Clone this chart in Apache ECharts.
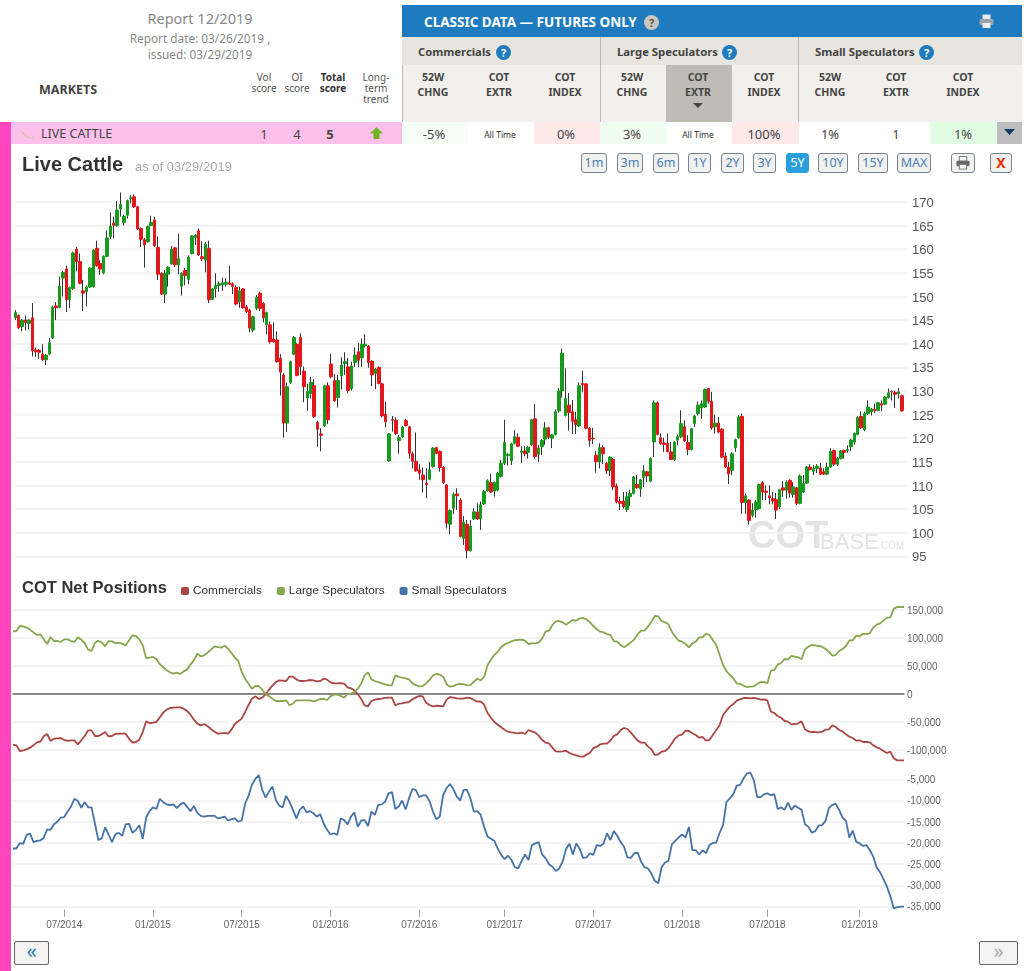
<!DOCTYPE html>
<html>
<head>
<meta charset="utf-8">
<title>Live Cattle COT</title>
<script src="https://cdn.jsdelivr.net/npm/echarts@6/dist/echarts.min.js"></script>
<style>
html,body{margin:0;padding:0;background:#fff;}
body{position:relative;width:1027px;height:971px;overflow:hidden;font-family:"Noto Sans",sans-serif;color:#444;}
.a{position:absolute;white-space:nowrap;}
.c{position:absolute;text-align:center;transform:translateX(-50%);white-space:nowrap;}
.hd{font-size:10.5px;font-weight:700;line-height:15px;color:#444;top:70px;}
.sc{font-size:10px;line-height:11px;color:#555;top:72px;}
.val{font-size:13px;color:#444;top:125px;}
.at{font-size:8.5px;color:#333;top:129px;}
.q{position:absolute;width:15px;height:15px;border-radius:50%;background:#1f7bc0;color:#fff;font:bold 11px/15px "Noto Sans";text-align:center;}
.b{position:absolute;top:153px;height:18px;box-sizing:content-box;border:1px solid #7a8290;border-radius:3px;background:#f1f1ef;color:#4b7fb5;font-size:12.5px;line-height:18px;text-align:center;}
.nav{position:absolute;top:941px;height:22px;border:1px solid #666;border-radius:2px;background:#f3f3f1;font-size:20px;line-height:18px;text-align:center;}
.grp{font-size:11.3px;font-weight:700;color:#444;top:44px;}
#chart{position:absolute;left:0;top:0;width:1027px;height:971px;}
</style>
</head>
<body>
<div class="a" style="left:0;top:122px;width:11px;height:849px;background:#ff46bf"></div>
<div class="a" style="left:11px;top:122px;width:391px;height:22px;background:#fdc0ea"></div>

<div class="c" style="left:200px;top:8px;font-size:14.5px;color:#888">Report 12/2019</div>
<div class="c" style="left:200px;top:30px;font-size:11.8px;color:#888">Report date: 03/26/2019 ,</div>
<div class="c" style="left:200px;top:46px;font-size:11.8px;color:#888">issued: 03/29/2019</div>
<div class="a" style="left:39px;top:81px;font-size:12.5px;font-weight:700;color:#444">MARKETS</div>
<div class="c sc" style="left:264px">Vol<br>score</div>
<div class="c sc" style="left:297px">OI<br>score</div>
<div class="c sc" style="left:333px;font-weight:700;color:#333">Total<br>score</div>
<div class="c sc" style="left:376px">Long-<br>term<br>trend</div>

<div class="a" style="left:402px;top:5px;width:620px;height:32px;background:#1f7bc0"></div>
<div class="a" style="left:424px;top:13px;font-size:13.5px;font-weight:700;color:#fff">CLASSIC DATA — FUTURES ONLY</div>
<div class="q" style="left:644px;top:15px;background:#c9c6bf;color:#555">?</div>
<svg class="a" style="left:979px;top:14px" width="15" height="15" viewBox="0 0 15 15"><rect x="3.5" y="0.5" width="8" height="5" fill="#e8e8e8"/><rect x="0.5" y="5" width="14" height="6" rx="1.5" fill="#9aa3ad"/><rect x="3.5" y="9" width="8" height="5" fill="#eee"/></svg>

<div class="a" style="left:402px;top:37px;width:620px;height:28px;background:#e8e4de"></div>
<div class="a" style="left:402px;top:65px;width:620px;height:57px;background:#f2f0ec"></div>
<div class="a" style="left:666px;top:65px;width:66px;height:57px;background:#bfbcb5"></div>
<div class="a" style="left:402px;top:65px;width:1px;height:57px;background:#bbb"></div>
<div class="a" style="left:600px;top:37px;width:1px;height:85px;background:#bbb"></div>
<div class="a" style="left:798px;top:37px;width:1px;height:85px;background:#bbb"></div>

<div class="a grp" style="left:418px">Commercials</div><div class="q" style="left:496px;top:45px">?</div>
<div class="a grp" style="left:617px">Large Speculators</div><div class="q" style="left:722px;top:45px">?</div>
<div class="a grp" style="left:815px">Small Speculators</div><div class="q" style="left:919px;top:45px">?</div>

<div class="c hd" style="left:433px">52W<br>CHNG</div><div class="c hd" style="left:499px">COT<br>EXTR</div><div class="c hd" style="left:565px">COT<br>INDEX</div>
<div class="c hd" style="left:632px">52W<br>CHNG</div><div class="c hd" style="left:698px">COT<br>EXTR</div><div class="c hd" style="left:764px">COT<br>INDEX</div>
<div class="c hd" style="left:830px">52W<br>CHNG</div><div class="c hd" style="left:896px">COT<br>EXTR</div><div class="c hd" style="left:963px">COT<br>INDEX</div>
<svg class="a" style="left:693px;top:103px" width="10" height="6"><path d="M0 0H10L5 5Z" fill="#444"/></svg>

<div class="a" style="left:402px;top:122px;width:66px;height:22px;background:#f7fdf7"></div>
<div class="a" style="left:534px;top:122px;width:66px;height:22px;background:#fee8e8"></div>
<div class="a" style="left:600px;top:122px;width:66px;height:22px;background:#f0fdf1"></div>
<div class="a" style="left:732px;top:122px;width:67px;height:22px;background:#fee8e8"></div>
<div class="a" style="left:930px;top:122px;width:67px;height:22px;background:#e0fce3"></div>
<div class="a" style="left:997px;top:122px;width:25px;height:22px;background:#bdbdbd"></div>
<svg class="a" style="left:1004px;top:129px" width="11" height="7"><path d="M0 0H11L5.5 6Z" fill="#123a6b"/></svg>

<svg class="a" style="left:20px;top:126px" width="15" height="15"><path d="M1 5L7 11L14 12" stroke="#eba9b4" fill="none"/><path d="M1 13L7 9L14 13" stroke="#d8dcbc" fill="none"/></svg>
<div class="a" style="left:41px;top:125px;font-size:12.5px;color:#444">LIVE CATTLE</div>
<div class="c val" style="left:264px">1</div><div class="c val" style="left:297px">4</div><div class="c val" style="left:330px;font-weight:700">5</div>
<svg class="a" style="left:370px;top:127px" width="13" height="12"><path d="M6.5 0L13 6.5H9.5V12H3.5V6.5H0Z" fill="#6fb51f"/></svg>
<div class="c val" style="left:434px">-5%</div><div class="c at" style="left:500px">All Time</div><div class="c val" style="left:566px">0%</div>
<div class="c val" style="left:632px">3%</div><div class="c at" style="left:698px">All Time</div><div class="c val" style="left:764px">100%</div>
<div class="c val" style="left:830px">1%</div><div class="c val" style="left:896px">1</div><div class="c val" style="left:963px">1%</div>

<div class="b" style="left:581px;width:24px">1m</div>
<div class="b" style="left:617px;width:24px">3m</div>
<div class="b" style="left:653px;width:24px">6m</div>
<div class="b" style="left:688px;width:21px">1Y</div>
<div class="b" style="left:721px;width:21px">2Y</div>
<div class="b" style="left:753px;width:21px">3Y</div>
<div class="b" style="left:786px;width:21px;background:#2a9fdc;color:#fff;border-color:#2a9fdc">5Y</div>
<div class="b" style="left:818px;width:28px">10Y</div>
<div class="b" style="left:858px;width:28px">15Y</div>
<div class="b" style="left:897px;width:32px">MAX</div>
<div class="b" style="left:951px;width:22px"><svg width="14" height="14" viewBox="0 0 15 15" style="margin-top:2px"><rect x="3.5" y="0.5" width="8" height="5" fill="#fff" stroke="#777"/><rect x="0.5" y="5" width="14" height="6" rx="1.5" fill="#666"/><rect x="3.5" y="9" width="8" height="5" fill="#fff" stroke="#777"/></svg></div>
<div class="b" style="left:990px;width:20px;color:#f03000;font-weight:700;font-size:14px">X</div>

<div class="nav" style="left:14px;width:33px;color:#2a7fc0">«</div>
<div class="nav" style="left:979px;width:37px;color:#aaa">»</div>

<div id="chart"></div>
<script>
// weekly candles: open, close, low, high
const priceWeeks = [
[145.5,146.6,145,147.1],[146,143.4,143.1,146.2],[143.6,145,142.6,145.2],[145,144.5,142.8,146],[144.3,145,143,145.2],
[145.5,138.5,137.3,148.6],[138.7,138.3,137.2,139.2],[138.6,138.2,136.8,138.9],[137.8,136.6,136.4,139.9],[136.6,137.6,135.5,137.8],
[137.8,140.2,137.6,141.2],[141.2,147.7,141,148.1],[148,147.6,145,148.8],[147.7,152.2,147.5,154.2],[153.9,155.1,150,155.4],
[155.8,149.3,146.7,156.5],[149.3,151.9,147.5,152.1],[151.7,159.2,151.4,159.5],[160,157.4,155.3,160.5],[157.4,152.8,152.6,159.1],
[151.2,150.7,146.9,153.5],[151,152,147.9,152.3],[152,156,151.8,156.2],[152.1,159.8,151.9,160],[160.2,156.5,156.3,161.8],
[157,155.8,154.6,157.7],[155,158.5,154.7,158.7],[158.5,162.4,158.3,164],[162.7,164.9,162.1,167.8],[165.5,165.1,162.3,166.9],
[165,168.3,164.8,170.2],[168.5,169.5,166.9,172],[165.7,167,165,167.3],[167.2,170.3,166.5,170.5],[170.7,170.9,169.7,171.5],
[171.1,169,168.7,171.6],[169,164.3,164.1,169.2],[164.4,162.1,160.5,164.6],[162,160.9,156.1,162.4],[161.6,164.8,161.4,165],
[165,165.7,164.9,167.1],[166.2,160.7,160.5,166.9],[160.4,154.7,153.5,162.7],[154.9,150.5,150.3,155.1],[150.5,154.9,148.6,155.6],
[154.7,156.2,152.1,156.4],[156.9,160,156.7,160.7],[160.3,156.7,156.2,160.5],[156.7,158,154.7,163.2],[152.2,154.9,150.2,155.1],
[155.5,154.4,152.4,156],[153.6,158.3,152.6,158.7],[159.1,162.8,158.9,163],[162.5,163,160.9,163.2],[163.9,158.8,158.6,164.4],
[158.4,158,157.5,161.7],[157.7,161.1,155.1,161.5],[160.2,149.3,148.6,161.8],[149.4,151.6,149.2,151.8],[151.6,152.4,149.8,154.9],
[152.3,152.7,151,153.2],[152.5,152.9,151.2,154],[152.6,153,152.1,153.9],[152.9,152.6,152.4,156.5],[152.7,152.1,150.5,153],
[151.9,148.4,148.1,152.4],[148.9,151.2,147.6,152.1],[151.6,147.6,147.4,151.8],[147.8,146.8,146.5,148.2],[147.1,143.3,142.4,147.4],
[142.9,145.7,142.4,145.9],[147.5,149.8,147.1,150.3],[150.7,147.5,146.9,151],[148.5,145.5,144.5,148.8],[144,146.6,142,146.8],
[144,140.4,140,144.7],[141,140.4,140.2,144.5],[140.8,136.2,136,142.6],[136.9,134,129,137.8],[133.4,123.2,120.1,133.8],
[123.2,130.9,121.3,131.8],[131.8,136.2,131.5,136.4],[137.8,141.3,137.6,141.6],[139.9,133.3,133.1,140.1],[141.3,135.2,133.4,142.2],
[134.2,130.9,127.6,135.2],[128.5,129.9,125.8,131.5],[129.5,131.8,128.4,133],[131.1,124.6,124.3,132.5],[123.3,121.9,118.2,123.7],
[120.9,120.6,117.2,122.1],[122.6,131.1,122.4,131.3],[131.1,123.9,123,131.8],[135.7,133,132.7,137.8],[132.2,127.9,127.7,133.6],
[128.6,132.2,126.5,133.4],[133.2,135.5,130.3,137.1],[135.8,136.2,133.4,138.2],[135.1,130.1,129.5,137],[130.5,135.3,130.1,136.2],
[136,137.6,135.1,139.2],[138.3,136.5,135,140.1],[137,139.9,135.1,141.1],[139.6,139.9,139.2,142],[139.5,136,134.9,139.7],
[136.3,133.4,131,136.5],[133.7,134.6,130.4,134.9],[135,131.6,131.4,135.2],[131.5,124.7,124.4,131.7],[125.1,123.5,122.3,127.7],
[115.2,120.9,115,121.1],[124,123.8,121.4,124.7],[123.8,121,120.7,124.4],[119.5,120.1,116.7,120.7],[120.3,122.3,120.1,122.6],
[123.7,122.7,122.5,124.1],[122.4,116.8,115.7,122.6],[116.7,115.1,113.6,117.2],[115.1,113.1,112.9,121.2],[113.3,112.6,111.2,114.5],
[112.2,111.2,108.5,113.8],[110.5,110.2,107.3,113.6],[111.3,113.3,111.1,115],[114,117.9,113.8,118.1],[118,116.8,116.6,118.2],
[117.2,113.8,112.9,117.4],[113.8,110.6,110.3,114.1],[110.1,102,100.9,110.3],[101.8,104.7,99.7,104.9],[105.2,108.1,103.9,108.5],
[108.2,107.8,104.8,109.4],[106.9,99.2,99,107.3],[98.8,102.2,97.4,103.5],[101.8,96.2,94.6,102.7],[96.2,101.4,96,102.7],
[102.9,104.4,102.7,105.2],[104.4,102.9,102.7,106.2],[102.9,105.9,100.6,106.6],[106.1,108.7,105.9,109],[108.9,111,108.7,111.3],
[110.6,108.6,108.4,112.4],[108.8,110.6,107.6,110.8],[109,112.6,108.8,112.9],[111.9,114.7,111.7,115.4],[114.7,119.1,114.3,123.9],
[116.3,116.6,114.2,116.8],[115.2,118.8,114.3,119],[118.9,120.3,118.7,121.7],[120.2,118.3,118.1,121],[117,117.3,114.7,118.3],
[117.3,116.7,116.2,118.3],[117,118.1,115.7,118.4],[118.6,123.9,118.4,124.1],[124.1,116.1,115.7,127.2],[116.6,117.9,115,118.6],
[118.2,119.5,116.4,119.8],[119.8,122.2,118.6,123.4],[122.2,120.2,119.8,122.4],[120,120.7,117.9,120.9],[120.8,125.6,120.6,126.1],
[125.8,130,125.4,130.6],[130,138,128.6,139],[124.8,128.4,124.6,134.8],[127,125.4,121.6,129.6],[125.6,123.6,120.9,128.1],
[123.9,122.9,120.9,125.6],[122.6,131.1,122.4,131.8],[131.6,131.3,129.7,134.3],[131.5,122.1,121.9,131.7],[122.1,119.5,118.2,122.4],
[120,119.9,118.8,122.2],[116.4,115,112.7,117.3],[115,118,113.6,118.9],[118,116.7,114.5,118.5],[114.7,113.1,112.4,115],
[113.1,116,112,116.2],[115.5,109.7,109,115.8],[109.9,106.5,106.2,110.4],[106.6,106.2,104.8,107.6],[106.7,105.5,105.1,108.6],
[104.9,107.6,104.4,108.6],[107.6,108.3,105.7,109.1],[108.3,111.8,108.1,112],[110.2,109.5,109.3,112.2],[109.3,111.2,107.6,111.4],
[111.7,113.1,109.7,114.3],[112.9,112,110.7,113.1],[110.9,115.7,110.7,115.9],[119.2,127.5,116,128],[127.5,120.8,120.6,127.8],
[120.1,118.9,118.6,121],[119,118.7,117.1,120.1],[118.9,117.2,117,121],[117.1,115.5,115.4,119.2],[115.5,119.2,115.2,119.4],
[119.6,120.3,118.5,120.8],[120.3,123.1,120,125.9],[122.4,119.4,119.2,123.8],[119.1,117.6,116.4,120.6],[117.6,122,117.4,122.2],
[123.1,124.7,122.4,124.9],[125.2,127,124.8,127.8],[126.4,127.3,124.1,128],[126.6,130.3,126.4,130.5],[130.5,127.8,127.3,130.6],
[127.8,122.2,121.8,129.8],[122.4,123.2,121,125],[123.2,121.3,121,124.5],[121.9,116,115.8,122.1],[116.2,113.9,113.7,117],
[113.9,112.4,110.3,115],[113.2,116.7,112.2,117],[118,119.7,117.1,119.9],[120.1,124.5,119.9,124.9],[124.6,106.4,104,125.2],
[106.4,107.8,104,108.3],[106.9,102.6,101.7,107.1],[103.7,104.8,103.3,106.2],[104.9,106.5,103.2,106.9],[105.1,110.2,104.9,110.4],
[110.6,108.6,106.9,110.9],[108.8,108.5,106.9,110],[107.8,107.4,106,110],[107.2,106.7,106,108.6],[107,104.8,102.9,108.4],
[105.5,109.1,105,109.3],[109.5,109,107.6,110.9],[109,110.7,107.2,111.1],[111.1,108.4,107.4,111.3],[108.1,109.7,107.4,110.7],
[109.5,106.2,105.8,109.7],[106.2,112,106,112.3],[108.6,110.4,108.4,112.2],[110.5,113.9,110.3,114.1],[113.9,113.4,113.2,114.5],
[113,113.6,112.2,114.3],[113.6,114.1,112.6,114.5],[113.7,112.4,112.2,114.8],[112.9,112.4,112.2,113.6],[112.4,113.9,112.2,114.8],
[113.9,117.2,113.7,117.9],[117.4,114.5,114.1,117.6],[114.5,115.7,114.1,116],[115.7,117.3,115.5,117.5],[117.4,117,115.7,117.6],
[117.4,117.6,116.9,118.5],[118.2,119.6,117.3,119.9],[119.2,121,118.7,121.2],[120.8,124.4,120.6,124.6],[124.6,122.2,122,125.7],
[121.8,125.2,121.5,125.6],[125.2,126.6,124.9,128],[125.6,126.2,124.8,126.4],[126.1,125.8,125.3,127.3],[125.9,127.5,125.7,127.7],
[127.3,127,125.7,128],[127.2,128.7,127,128.9],[128.6,129.6,128.4,130.5],[129.9,129.8,128,130.1],[129.7,129.3,126.4,130.1],
[129.4,129.8,128.4,130.6],[129,125.8,125.6,129.2]
]

// net positions, thousands of contracts
const commercials = [
-90.5,-91.7,-101.8,-100.6,-98.8,-95.8,-91.7,-86.3,-85.1,-75.6,
-71.4,-83.9,-79.8,-79.2,-78.6,-82.1,-83.9,-82.7,-82.7,-89.9,
-82.7,-75,-64.9,-64.9,-75,-75,-72,-67.9,-75.6,-75,
-71.4,-70.8,-70.8,-70.8,-79.8,-86.9,-85.7,-81.5,-67.9,-48.8,
-52.4,-51.2,-50,-41.7,-33.3,-28,-25,-24.4,-23.8,-23.8,
-26.2,-30.4,-36.9,-45.8,-53,-56,-53.6,-57.7,-62.5,-67.3,
-70.8,-70.2,-69.6,-70.8,-63.7,-53,-48.8,-44,-32.1,-19.6,
-8.3,-4.2,-8.9,-6.5,-0.6,7.7,14.9,21.4,24.4,23.8,
23.2,31,31,26.2,23.2,23.2,23.8,25,24.4,22.6,
23.2,27.4,25.6,20.8,19,19,19.6,18.5,11.9,10.1,
6.5,-0.6,-8.9,-20.2,-22,-12.5,-10.1,-8.9,-8.3,-7.1,
-6.5,-6.5,-20.2,-17.3,-16.7,-15.5,-14.3,-9.5,-6,-3.6,
-4.2,-15.5,-19.6,-22,-20.8,-21.4,-22,-10.1,-5.4,-6.5,
-7.7,-8.3,-8.3,-6.5,-7.1,-10.7,-13.7,-13.1,-19,-33.9,
-42.3,-50,-54.8,-59.5,-63.7,-67.3,-68.5,-69.6,-70.2,-69,
-71.4,-64.3,-66.7,-69,-74.4,-82.1,-86.9,-88.1,-95.8,-102.4,
-103,-102.4,-101.2,-105.4,-107.7,-109.5,-111.3,-111.9,-108.3,-104.8,
-97,-94,-89.9,-88.7,-88.7,-83.3,-75,-72,-64.3,-60.7,
-62.5,-69,-76.2,-83.3,-86.9,-86.9,-94,-98.8,-108.9,-107.7,
-103,-101.8,-97,-88.1,-79.2,-73.8,-72.6,-65.5,-66.1,-70.2,
-73.2,-78,-76.8,-83.3,-82.1,-73.2,-64.3,-55.4,-37.5,-29.8,
-22.6,-17.9,-11.9,-9.5,-7.1,-7.1,-7.7,-7.1,-8.3,-10.1,
-9.5,-11.9,-31.5,-33.9,-39.3,-42.3,-48.2,-49.4,-54.2,-53.6,
-52.4,-48.8,-63.1,-66.7,-67.9,-67.9,-68.5,-67.3,-63.7,-63.1,
-56,-59,-64.3,-66.7,-72,-76.2,-78.6,-83.3,-82.7,-85.7,
-85.7,-86.3,-91.7,-95.2,-97.6,-101.8,-105.4,-103,-114.9,-118.5,
-118.5,-118.5
]
const largeSpecs = [
112,112.5,121.4,120.8,118.5,114.9,110.1,105.4,106.5,97.6,
89.3,101.8,94.6,94.6,92.9,97.6,97.6,94.6,92.9,101.2,
97,91.1,79.2,76.8,91.1,95.2,91.7,85.1,94.6,94,
90.5,91.7,89.9,86.9,95.8,104.8,103.6,97.6,86.9,64.3,
64.9,66.1,62.5,53,48.2,42.3,38.7,36.3,38.1,35.7,
40.5,43.5,53,60.1,72,67.3,69,73.8,79.2,85.1,
83.9,82.7,86.3,81,73.2,64.9,58.9,39.3,27.4,18.5,
9.5,14.3,14.3,7.7,0,-4.2,-8.3,-12.5,-12.5,-12.5,
-11.3,-20.2,-17.3,-11.3,-11.3,-11.3,-11.3,-11.3,-13.1,-11.3,
-8.9,-8.9,-10.7,-4.2,-1.2,-1.2,-3.6,-6.5,0,0.6,
3.6,9.5,18.5,33.3,38.7,26.2,23.2,21.4,19,17.3,
16,15.5,33.5,30.5,29.3,28,26.2,18.9,15.8,13.6,
14,19,25,33,35.8,34.8,31,17.5,13,14,
17,18.2,17.5,15.5,16,22,27.2,24.4,30.4,51.2,
61,70,75.5,84,88.5,91,94,96,96.5,97,
95.2,89.3,90.5,90.5,91.7,99.4,111.3,113,123.2,129.8,
130.4,128,123.8,128,132.1,131,135.1,135.7,133.3,128,
121.4,115.5,111.3,110.1,107,105.4,94.6,93.5,87.5,83.3,
87.5,92.3,97.6,107,113,113,120.2,129.2,139.3,138.7,
130.4,128,124.4,111.3,102.4,95.2,93.5,89.3,83.3,90.5,
93.5,101.2,101.2,107.7,105.4,96.4,87.5,69.6,51.8,40.9,
33.9,28,19,17.9,14.9,12.5,13.1,13.7,17.9,21.4,
21.4,19.6,41.7,42.9,52.4,55.4,62.5,61.3,67.9,66.7,
65.5,61.9,79.8,84.5,87.5,86.9,85.7,84.5,80.4,75.6,
68.5,69.6,76.8,80.4,85.7,95.8,95.8,104.2,103,107.7,
107,108.9,118.5,123.8,126.2,131.5,136.3,136.9,152.4,155.4,
155.4,155.4
]
const smallSpecs = [
-21.3,-21.3,-20,-20.2,-18.1,-17.8,-19.8,-19.5,-19.4,-18.8,
-16.8,-16.9,-15.6,-15,-14,-13.9,-12.6,-11.4,-9.6,-10.1,
-11.7,-10.4,-11.6,-11.6,-15.4,-19.3,-18.9,-16.3,-18,-19.8,
-17.9,-17.6,-18.3,-15.6,-15.5,-17.6,-16.9,-15.8,-19,-14,
-12.5,-11.6,-12,-9.6,-10.4,-10.9,-11.1,-10.9,-11.8,-10.9,
-10.5,-11.5,-12.5,-11.3,-12.9,-13.6,-13.8,-13.6,-13.6,-13.6,
-14.2,-14,-13.8,-14.7,-14.4,-14.2,-15,-14.7,-10.7,-8.9,
-6.3,-4.9,-4,-7.5,-9.3,-7.9,-6.7,-9.9,-11.2,-11.6,
-8.9,-10.3,-12.2,-14.2,-12.2,-11.4,-12.8,-12.5,-13,-13.8,
-13.2,-15.4,-16.9,-18,-17.7,-18.1,-14.2,-14.6,-15.6,-13.8,
-12.8,-16.2,-14.7,-14.6,-16,-12.6,-13.4,-11,-10.9,-10.3,
-8.3,-8,-12,-11.4,-10,-12.1,-9.5,-7.3,-7.5,-9.2,
-8.8,-8.8,-10.1,-12.6,-14.4,-13.8,-8.7,-7.1,-6.1,-7.3,
-9.1,-10,-7.5,-7.5,-9.5,-12.6,-12.5,-13.4,-16.2,-18.5,
-19,-19.5,-21.3,-22.8,-23.8,-23,-24,-25.7,-26,-24.2,
-22.7,-24,-20.5,-20.1,-19.8,-22.7,-23.6,-25,-25.6,-26.6,
-26,-24.4,-21.4,-20.2,-22.7,-20.1,-21.4,-23.5,-23.4,-22.4,
-22.8,-20.5,-20.7,-20.1,-17.7,-19.3,-17.2,-18.3,-19.8,-20.9,
-23.4,-23.5,-22.4,-22.3,-24.4,-25.7,-26,-27.2,-28.9,-29.5,
-25.7,-24.6,-24.2,-20.3,-19.5,-18.7,-18,-18.7,-16.2,-21.7,
-21.7,-22.7,-21.7,-22.4,-20.5,-20,-19.9,-17.6,-15.8,-10.3,
-9.5,-8.5,-6.5,-6.3,-4.8,-3.6,-3.4,-5.2,-9.2,-9.2,
-8.5,-8.3,-8.8,-8.5,-12,-11.6,-12.2,-10.5,-12.2,-11.2,
-11.7,-12.2,-15.6,-16.2,-17.6,-17.2,-15.9,-15.8,-14.8,-11.8,
-11,-10.8,-12.2,-14,-14.8,-18.7,-17.1,-19.7,-20.1,-20.7,
-20.5,-21.7,-23.2,-25.8,-26.9,-28.5,-30.3,-32.5,-35.4,-35.1,
-35,-35
]

const tickWeeks = [15,41,67,93,119,144,170,196,221,248]
const tickLabels = ['07/2014','01/2015','07/2015','01/2016','07/2016','01/2017','07/2017','01/2018','07/2018','01/2019']

// report weeks, ending 03/26/2019; the price axis keeps one spare week on the right
let weeks = []
for (let i = 0; i < 263; i++) {
    let d = new Date(Date.UTC(2014, 2, 25 + i * 7))
    weeks.push(d.toISOString().slice(0, 10))
}
const thousands = (arr) => arr.map((v) => Math.round(v * 1000))
const font = '"Liberation Sans", Arial, sans-serif'
const gridLine = {show: true, lineStyle: {color: '#f1f1f1', width: 1.5}}

let chart = echarts.init(document.getElementById('chart'))
chart.setOption({
    animation: false,
    textStyle: {fontFamily: font},
    title: [
        {text: 'Live Cattle', left: 22, top: 155, padding: 0, textStyle: {fontSize: 20, fontWeight: 'bold', color: '#333', fontFamily: font}},
        {text: 'as of 03/29/2019', left: 135, top: 161, padding: 0, textStyle: {fontSize: 13, fontWeight: 'normal', color: '#aaa', fontFamily: font}},
        {text: 'COT Net Positions', left: 22, top: 580, padding: 0, textStyle: {fontSize: 16.5, fontWeight: 'bold', color: '#333', fontFamily: font}}
    ],
    legend: {
        left: 181, top: 585, padding: 0, itemWidth: 8, itemHeight: 8, itemGap: 15, icon: 'roundRect',
        data: ['Commercials', 'Large Speculators', 'Small Speculators'],
        textStyle: {fontSize: 11.8, color: '#333', padding: [0, 0, 0, -1]}
    },
    graphic: [
        {type: 'text', left: 748, top: 519, z: 0, style: {text: 'COT', fontSize: 38, fontWeight: 'bold', fontFamily: font, fill: '#e3e3e3'}},
        {type: 'text', left: 820, top: 532, z: 0, style: {text: 'BASE', fontSize: 22, fontFamily: font, fill: '#e3e3e3'}},
        {type: 'text', left: 878, top: 541, z: 0, style: {text: '.COM', fontSize: 10, fontFamily: font, fill: '#e3e3e3'}}
    ],
    grid: [
        {left: 13.6, top: 202, width: 893.4, height: 354.3},
        {left: 13, top: 610, width: 891, height: 140},
        {left: 13, top: 779.3, width: 891, height: 127.4}
    ],
    xAxis: [
        {type: 'category', gridIndex: 0, data: weeks, show: false},
        {
            type: 'category', gridIndex: 1, data: weeks.slice(0, 262), boundaryGap: false,
            axisLine: {onZero: true, lineStyle: {color: '#666', width: 1.5}},
            axisTick: {show: false}, axisLabel: {show: false}
        },
        {
            type: 'category', gridIndex: 2, data: weeks.slice(0, 262), boundaryGap: false, offset: 3,
            axisLine: {show: false},
            axisTick: {length: 7, lineStyle: {color: '#999'}, interval: (i) => tickWeeks.includes(i)},
            axisLabel: {
                fontSize: 10, color: '#666', margin: 11,
                interval: (i) => tickWeeks.includes(i),
                formatter: (v, i) => tickLabels[tickWeeks.indexOf(i)]
            }
        }
    ],
    yAxis: [
        {
            type: 'value', gridIndex: 0, position: 'right', min: 95, max: 170, interval: 5,
            axisLine: {show: false}, axisTick: {show: false}, splitLine: gridLine,
            axisLabel: {fontSize: 13, color: '#555', margin: 5, verticalAlign: 'top', padding: [-5, 0, 0, 0]}
        },
        {
            type: 'value', gridIndex: 1, position: 'right', min: -100000, max: 150000, interval: 50000,
            axisLine: {show: false}, axisTick: {show: false}, splitLine: gridLine,
            axisLabel: {fontSize: 10, color: '#666', margin: 3, verticalAlign: 'top', padding: [-4, 0, 0, 0], formatter: (v) => v.toLocaleString('en-US')}
        },
        {
            type: 'value', gridIndex: 2, position: 'right', min: -35000, max: -5000, interval: 5000,
            axisLine: {show: false}, axisTick: {show: false}, splitLine: gridLine,
            axisLabel: {fontSize: 10, color: '#666', margin: 3, verticalAlign: 'top', padding: [-4, 0, 0, 0], formatter: (v) => v.toLocaleString('en-US')}
        }
    ],
    series: [
        {
            name: 'Range', type: 'candlestick', xAxisIndex: 0, yAxisIndex: 0, clip: false, barWidth: 1,
            data: priceWeeks,
            itemStyle: {color: '#333', color0: '#333', borderColor: '#333', borderColor0: '#333', borderWidth: 1}
        },
        {
            name: 'Live Cattle', type: 'candlestick', xAxisIndex: 0, yAxisIndex: 0, clip: false, barWidth: 3,
            data: priceWeeks.map(([o, c]) => [o, c, Math.min(o, c), Math.max(o, c)]),
            itemStyle: {color: '#179a1e', color0: '#e2181d', borderColor: '#179a1e', borderColor0: '#e2181d', borderWidth: 1}
        },
        {
            name: 'Commercials', type: 'line', xAxisIndex: 1, yAxisIndex: 1, clip: false, showSymbol: false,
            data: thousands(commercials), itemStyle: {color: '#aa4643'}, lineStyle: {color: '#aa4643', width: 1.8}
        },
        {
            name: 'Large Speculators', type: 'line', xAxisIndex: 1, yAxisIndex: 1, clip: false, showSymbol: false,
            data: thousands(largeSpecs), itemStyle: {color: '#89a54e'}, lineStyle: {color: '#89a54e', width: 1.8}
        },
        {
            name: 'Small Speculators', type: 'line', xAxisIndex: 2, yAxisIndex: 2, clip: false, showSymbol: false,
            data: thousands(smallSpecs), itemStyle: {color: '#4572a7'}, lineStyle: {color: '#4572a7', width: 1.8}
        }
    ]
})
</script>
</body>
</html>
